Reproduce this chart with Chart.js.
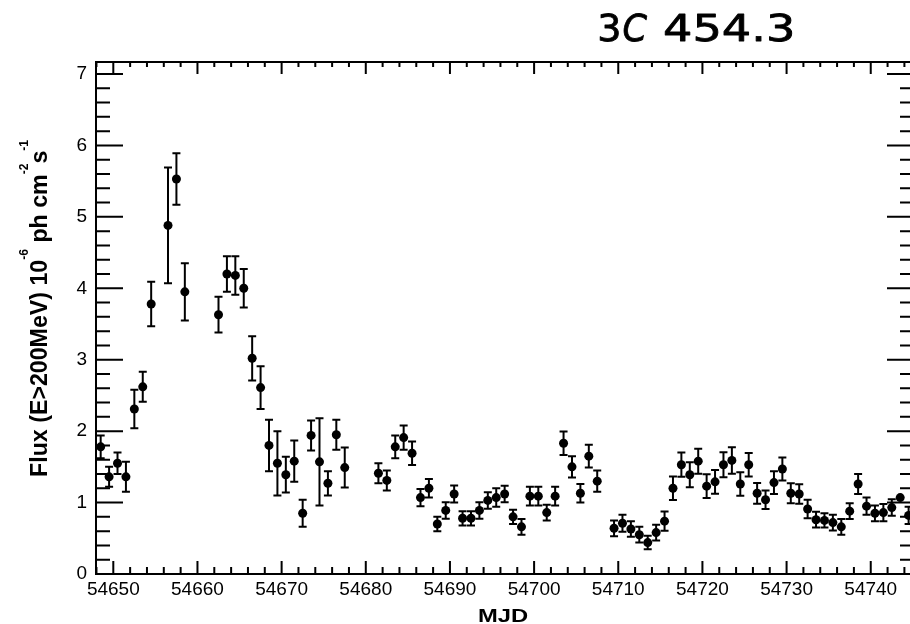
<!DOCTYPE html>
<html>
<head>
<meta charset="utf-8">
<title>3C 454.3 light curve</title>
<script src="https://cdn.jsdelivr.net/npm/chart.js@4/dist/chart.umd.min.js"></script>
<style>
  html, body { margin: 0; padding: 0; background: #fff; overflow: hidden; }
  #wrap { width: 910px; height: 624px; overflow: hidden; position: relative; }
  canvas { display: block; }
</style>
</head>
<body>
<div id="wrap"><canvas id="lc" width="920" height="624" style="width:920px;height:624px"></canvas></div>
<script>
// Daily-binned gamma-ray flux of 3C 454.3 (E > 200 MeV), units of 1e-6 ph cm^-2 s^-1
const mjd = [
  54648.5, 54649.5, 54650.5, 54651.5, 54652.5, 54653.5, 54654.5, 54656.5, 54657.5, 54658.5,
  54662.5, 54663.5, 54664.5, 54665.5, 54666.5, 54667.5, 54668.5, 54669.5, 54670.5, 54671.5,
  54672.5, 54673.5, 54674.5, 54675.5, 54676.5, 54677.5, 54681.5, 54682.5, 54683.5, 54684.5,
  54685.5, 54686.5, 54687.5, 54688.5, 54689.5, 54690.5, 54691.5, 54692.5, 54693.5, 54694.5,
  54695.5, 54696.5, 54697.5, 54698.5, 54699.5, 54700.5, 54701.5, 54702.5, 54703.5, 54704.5,
  54705.5, 54706.5, 54707.5, 54709.5, 54710.5, 54711.5, 54712.5, 54713.5, 54714.5, 54715.5,
  54716.5, 54717.5, 54718.5, 54719.5, 54720.5, 54721.5, 54722.5, 54723.5, 54724.5, 54725.5,
  54726.5, 54727.5, 54728.5, 54729.5, 54730.5, 54731.5, 54732.5, 54733.5, 54734.5, 54735.5,
  54736.5, 54737.5, 54738.5, 54739.5, 54740.5, 54741.5, 54742.5, 54743.5, 54744.5
];
const flux = [
  1.78, 1.36, 1.55, 1.36, 2.31, 2.62, 3.78, 4.88, 5.53, 3.95,
  3.63, 4.20, 4.18, 4.00, 3.02, 2.61, 1.80, 1.55, 1.39, 1.58,
  0.85, 1.94, 1.57, 1.27, 1.95, 1.49, 1.41, 1.31, 1.78, 1.91,
  1.69, 1.07, 1.20, 0.70, 0.89, 1.12, 0.78, 0.78, 0.89, 1.03,
  1.07, 1.12, 0.80, 0.66, 1.09, 1.09, 0.86, 1.09, 1.83, 1.50,
  1.13, 1.65, 1.30, 0.64, 0.71, 0.63, 0.55, 0.44, 0.58, 0.74,
  1.20, 1.53, 1.39, 1.58, 1.23, 1.29, 1.53, 1.59, 1.26, 1.53,
  1.13, 1.04, 1.28, 1.47, 1.13, 1.12, 0.91, 0.76, 0.75, 0.72,
  0.66, 0.88, 1.26, 0.95, 0.85, 0.86, 0.93, 1.07, 0.82
];
const fluxErr = [
  0.16, 0.14, 0.15, 0.21, 0.27, 0.21, 0.31, 0.81, 0.36, 0.40,
  0.25, 0.25, 0.27, 0.27, 0.31, 0.30, 0.36, 0.45, 0.25, 0.29,
  0.19, 0.21, 0.61, 0.17, 0.21, 0.28, 0.14, 0.14, 0.16, 0.17,
  0.165, 0.12, 0.13, 0.10, 0.115, 0.12, 0.10, 0.10, 0.115, 0.115,
  0.13, 0.115, 0.10, 0.11, 0.13, 0.13, 0.11, 0.13, 0.165, 0.15,
  0.13, 0.16, 0.15, 0.11, 0.12, 0.11, 0.11, 0.095, 0.11, 0.135,
  0.165, 0.17, 0.175, 0.175, 0.165, 0.165, 0.175, 0.185, 0.165, 0.165,
  0.145, 0.13, 0.16, 0.16, 0.14, 0.135, 0.13, 0.11, 0.10, 0.11,
  0.11, 0.11, 0.14, 0.12, 0.11, 0.12, 0.115, 0.0, 0.12
];

// Axis labelling
const xTicks = [54650, 54660, 54670, 54680, 54690, 54700, 54710, 54720, 54730, 54740];
const yTicks = [0, 1, 2, 3, 4, 5, 6, 7];
const xRange = [54647.944, 54745.14];
const yRange = [0, 7.168];
const xMinorStep = 2;
const yMinorStep = 0.2;

const SANS = '"Liberation Sans", Arial, Helvetica, sans-serif';

// Draw a string so that its ink spans exactly [x0, x1] on the given baseline
function fitText(ctx, text, font, x0, x1, baseline, stroke) {
  ctx.font = font;
  const m = ctx.measureText(text);
  const ink = m.actualBoundingBoxLeft + m.actualBoundingBoxRight;
  const sx = (x1 - x0) / ink;
  ctx.save();
  ctx.translate(x0, baseline);
  ctx.scale(sx, 1);
  ctx.textAlign = 'left';
  ctx.textBaseline = 'alphabetic';
  ctx.fillText(text, m.actualBoundingBoxLeft, 0);
  if (stroke) {
    ctx.lineWidth = stroke;
    ctx.lineJoin = 'round';
    ctx.strokeStyle = ctx.fillStyle;
    ctx.strokeText(text, m.actualBoundingBoxLeft, 0);
  }
  ctx.restore();
}

// ROOT-style frame: box with inward ticks on all four sides
const framePlugin = {
  id: 'frame',
  afterDraw(chart) {
    const { ctx, chartArea: a, scales: { x, y } } = chart;
    ctx.save();
    ctx.strokeStyle = '#000';
    ctx.lineWidth = 2;
    ctx.beginPath();
    ctx.rect(a.left, a.top, a.right - a.left, a.bottom - a.top);
    ctx.stroke();

    ctx.beginPath();
    for (let v = 54648; v <= xRange[1]; v += xMinorStep) {
      if (v < xRange[0]) continue;
      const px = x.getPixelForValue(v);
      const major = xTicks.includes(v);
      ctx.moveTo(px, a.bottom); ctx.lineTo(px, a.bottom - (major ? 13 : 7));
      ctx.moveTo(px, a.top);    ctx.lineTo(px, a.top + (major ? 12 : 5));
    }
    for (let i = 0; i * yMinorStep <= yRange[1] + 1e-9; i++) {
      const v = +(i * yMinorStep).toFixed(3);
      const py = y.getPixelForValue(v);
      const major = Math.abs(v - Math.round(v)) < 1e-6;
      const len = major ? 27 : 14;
      ctx.moveTo(a.left, py);  ctx.lineTo(a.left + len, py);
      ctx.moveTo(a.right, py); ctx.lineTo(a.right - len, py);
    }
    ctx.stroke();
    ctx.restore();
  }
};

// Vertical error bars with end caps
const errorBarPlugin = {
  id: 'errorBars',
  beforeDatasetsDraw(chart) {
    const { ctx, chartArea: a, scales: { x, y } } = chart;
    ctx.save();
    ctx.beginPath();
    ctx.rect(a.left, a.top, a.right - a.left, a.bottom - a.top);
    ctx.clip();
    ctx.strokeStyle = '#000';
    ctx.lineWidth = 2;
    ctx.beginPath();
    const cap = 4;
    for (let i = 0; i < mjd.length; i++) {
      if (!fluxErr[i]) continue;
      const px = x.getPixelForValue(mjd[i]);
      const hi = y.getPixelForValue(flux[i] + fluxErr[i]);
      const lo = y.getPixelForValue(flux[i] - fluxErr[i]);
      ctx.moveTo(px, hi); ctx.lineTo(px, lo);
      ctx.moveTo(px - cap, hi); ctx.lineTo(px + cap, hi);
      ctx.moveTo(px - cap, lo); ctx.lineTo(px + cap, lo);
    }
    ctx.stroke();
    ctx.restore();
  }
};

// Object name and axis titles (with superscripted units)
const titlesPlugin = {
  id: 'titles',
  afterDraw(chart) {
    const ctx = chart.ctx;
    ctx.save();
    ctx.fillStyle = '#000';

    // Object name
    const big = '38px "DejaVu Sans", sans-serif';
    const bigIt = 'oblique 38px "DejaVu Sans", sans-serif';
    fitText(ctx, '3', big, 599.3, 619.3, 41, 0.8);
    fitText(ctx, 'C', bigIt, 623.3, 647.3, 41, 0.8);
    fitText(ctx, '454.3', big, 664.3, 792.7, 41, 0.8);

    // X axis title
    fitText(ctx, 'MJD', 'bold 19px ' + SANS, 479.3, 527.3, 621.7);

    // Y axis title, rotated, with superscripts
    const main = 'bold 23px ' + SANS;
    const sup = 'bold 12px ' + SANS;
    const parts = [
      ['Flux (E>200MeV) 10', false],
      ['-6', true],
      [' ph cm', false],
      ['-2', true],
      ['s', false],
      ['-1', true]
    ];
    let total = 0;
    const widths = parts.map(([t, s]) => {
      ctx.font = s ? sup : main;
      const w = ctx.measureText(t).width;
      total += w;
      return w;
    });
    const length = 337;
    const sx = length / total;
    ctx.translate(47.3, 308.4);
    ctx.rotate(-Math.PI / 2);
    ctx.scale(sx, 1);
    ctx.textAlign = 'left';
    ctx.textBaseline = 'alphabetic';
    let cx = -total / 2;
    parts.forEach(([t, s], i) => {
      ctx.font = s ? sup : main;
      ctx.fillText(t, cx, s ? -19 : 0);
      cx += widths[i];
    });
    ctx.restore();
  }
};

const points = mjd.map((m, i) => ({ x: m, y: flux[i] }));

new Chart(document.getElementById('lc'), {
  type: 'scatter',
  data: {
    datasets: [{
      data: points,
      pointRadius: 4.5,
      pointHoverRadius: 4.5,
      pointBackgroundColor: '#000',
      pointBorderWidth: 0,
      showLine: false
    }]
  },
  options: {
    responsive: false,
    animation: false,
    devicePixelRatio: 1,
    events: [],
    layout: { padding: { top: 62, right: 6, left: 0, bottom: 0 } },
    plugins: {
      legend: { display: false },
      tooltip: { enabled: false },
      title: { display: false }
    },
    scales: {
      x: {
        type: 'linear',
        position: 'bottom',
        min: xRange[0],
        max: xRange[1],
        afterFit: s => { s.height = 50; },
        afterBuildTicks: s => { s.ticks = xTicks.map(v => ({ value: v })); },
        ticks: {
          font: { family: SANS, size: 19 },
          color: '#000',
          padding: 4,
          maxRotation: 0,
          autoSkip: false,
          callback: v => String(v)
        },
        grid: { display: false, drawTicks: false },
        border: { display: false }
      },
      y: {
        type: 'linear',
        min: yRange[0],
        max: yRange[1],
        afterFit: s => { s.width = 96; },
        afterBuildTicks: s => { s.ticks = yTicks.map(v => ({ value: v })); },
        ticks: {
          font: { family: SANS, size: 19 },
          color: '#000',
          padding: 9,
          autoSkip: false,
          callback: v => String(v)
        },
        grid: { display: false, drawTicks: false },
        border: { display: false }
      }
    }
  },
  plugins: [errorBarPlugin, framePlugin, titlesPlugin]
});
</script>
</body>
</html>
